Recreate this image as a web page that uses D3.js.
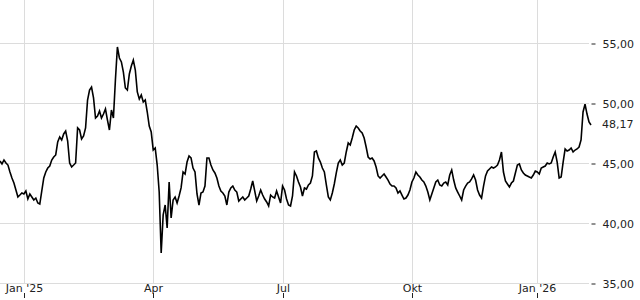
<!DOCTYPE html>
<html>
<head>
<meta charset="utf-8">
<script src="https://cdn.jsdelivr.net/npm/d3@7"></script>
<style>
  body { margin: 0; background: #fff; }
  #chart text { font-family: "DejaVu Sans", sans-serif; font-size: 11px; fill: #222; }
</style>
</head>
<body>
<div id="chart"></div>
<script>
// Closing prices, one per trading day (mid Dec 2024 -> early Feb 2026)
var prices = [
  45.17, 44.92, 45.25, 45.00, 44.83, 44.25, 43.75, 43.33, 42.75, 42.17,
  42.33, 42.50, 42.42, 42.67, 42.00, 42.42, 42.17, 41.92, 42.08, 41.67,
  41.58, 42.67, 43.75, 44.25, 44.58, 44.75, 45.25, 45.50, 45.67, 46.75,
  47.17, 46.92, 47.42, 47.67, 46.83, 45.00, 44.67, 44.83, 45.00, 47.92,
  47.75, 47.00, 47.25, 47.92, 50.25, 51.08, 51.33, 50.42, 48.75, 48.92,
  49.33, 48.75, 49.08, 49.50, 48.58, 47.75, 49.42, 48.75, 51.92, 54.67,
  53.75, 53.42, 52.58, 51.25, 51.08, 52.42, 53.08, 53.58, 52.75, 50.92,
  50.33, 50.67, 50.08, 50.25, 49.25, 48.08, 47.58, 46.08, 46.25, 44.83,
  42.58, 37.50, 40.67, 41.50, 39.58, 43.42, 40.42, 41.92, 42.17, 41.67,
  42.25, 42.92, 44.25, 44.08, 45.08, 45.58, 45.42, 44.58, 44.25, 42.42,
  41.50, 42.50, 42.58, 43.08, 45.42, 45.42, 44.83, 44.42, 44.17, 43.75,
  43.08, 42.67, 42.50, 42.25, 41.50, 42.58, 42.92, 43.08, 42.75, 42.58,
  41.83, 42.00, 42.17, 41.92, 42.08, 42.25, 42.83, 43.50, 42.67, 41.83,
  42.25, 42.75, 42.33, 42.00, 41.75, 41.42, 42.33, 42.17, 42.08, 42.67,
  42.17, 41.67, 43.08, 42.75, 42.00, 41.50, 41.42, 42.25, 44.25, 43.92,
  43.42, 43.00, 42.25, 42.92, 42.83, 43.17, 43.33, 43.92, 45.92, 46.00,
  45.42, 45.08, 44.58, 44.25, 43.17, 42.17, 41.92, 42.50, 43.25, 44.17,
  45.00, 45.25, 44.83, 45.00, 45.92, 46.67, 46.50, 47.08, 47.75, 48.08,
  47.92, 47.67, 47.50, 47.08, 46.33, 45.50, 45.33, 45.42, 45.17, 44.67,
  43.92, 43.75, 43.92, 44.08, 43.83, 43.58, 43.25, 43.08, 43.08, 42.92,
  42.50, 42.67, 42.33, 42.00, 42.08, 42.33, 42.75, 43.42, 43.75, 44.25,
  44.00, 43.83, 43.58, 43.42, 43.08, 42.58, 41.92, 42.42, 42.92, 43.42,
  43.58, 43.17, 43.08, 43.33, 43.42, 43.17, 44.00, 44.42, 43.58, 42.92,
  42.58, 42.25, 41.92, 42.75, 43.08, 43.33, 43.42, 43.67, 44.00, 43.58,
  42.75, 42.33, 42.08, 43.08, 43.92, 44.33, 44.50, 44.67, 44.58, 44.67,
  44.83, 45.25, 45.92, 44.25, 43.50, 43.25, 43.00, 43.33, 43.50, 44.17,
  44.83, 44.92, 44.42, 44.17, 44.00, 43.92, 43.83, 43.75, 44.00, 44.33,
  44.25, 44.08, 44.58, 44.67, 44.75, 45.00, 44.92, 45.00, 45.50, 45.92,
  45.08, 43.75, 43.83, 45.08, 46.17, 46.00, 46.08, 46.25, 45.92, 46.08,
  46.17, 46.33, 46.92, 49.25, 49.90, 49.08, 48.42, 48.17
];

// x axis: index of the first trading day of each labelled month
var monthIndex = [12, 77, 142, 207, 270];
var monthLabels = ["Jan '25", "Apr", "Jul", "Okt", "Jan '26"];

// y axis
var yTicks = [35, 40, 45, 50, 55];
var lastPrice = 48.17;

function drawChart(data) {
  var width = 640;
  var height = 300;
  var plotRight = 591;
  var plotTop = 43;
  var plotBottom = 283;

  var fmt = function(v) { return d3.format(".2f")(v).replace(".", ","); };

  var xScale = d3.scaleLinear()
  .domain([0, data.length - 1])
  .range([0, plotRight]);

  var yScale = d3.scaleLinear()
  .domain([35, 55])
  .range([plotBottom, plotTop]);

  var svg = d3.select("#chart")
  .append("svg")
  .attr("width", width)
  .attr("height", height);

  // horizontal grid
  svg.append("g")
  .selectAll("line")
  .data(yTicks)
  .enter()
  .append("line")
  .attr("x1", 0)
  .attr("x2", 589)
  .attr("y1", (d) => Math.round(yScale(d)) + 0.5)
  .attr("y2", (d) => Math.round(yScale(d)) + 0.5)
  .attr("stroke", "#dcdcdc");

  // vertical grid
  svg.append("g")
  .selectAll("line")
  .data(monthIndex)
  .enter()
  .append("line")
  .attr("x1", (d) => Math.round(xScale(d)) + 0.5)
  .attr("x2", (d) => Math.round(xScale(d)) + 0.5)
  .attr("y1", 0)
  .attr("y2", plotBottom)
  .attr("stroke", "#dcdcdc");

  // price line
  var line = d3.line()
  .x((d, i) => xScale(i))
  .y((d) => yScale(d));

  svg.append("path")
  .datum(data)
  .attr("d", line)
  .attr("fill", "none")
  .attr("stroke", "#000")
  .attr("stroke-width", 1.6)
  .attr("stroke-linejoin", "miter");

  // right axis
  var yAxis = d3.axisRight(yScale)
  .tickValues(yTicks)
  .tickSize(4)
  .tickPadding(7)
  .tickFormat(fmt);

  var gy = svg.append("g")
  .attr("transform", "translate(591.5,0.5)")
  .call(yAxis);
  gy.select(".domain").remove();
  gy.selectAll(".tick line").attr("stroke", "#222");

  svg.append("text")
  .attr("x", 602)
  .attr("y", yScale(lastPrice))
  .attr("dy", "0.32em")
  .text(fmt(lastPrice));

  // bottom labels with small ticks underneath
  var gx = svg.append("g")
  .selectAll("g")
  .data(monthIndex)
  .enter()
  .append("g")
  .attr("transform", (d) => "translate(" + (Math.round(xScale(d)) + 0.5) + ",0)");

  gx.append("text")
  .attr("text-anchor", "middle")
  .attr("y", 292)
  .text((d, i) => monthLabels[i]);

  gx.append("line")
  .attr("y1", 293)
  .attr("y2", 298)
  .attr("stroke", "#222");
}

drawChart(prices);
</script>
</body>
</html>
